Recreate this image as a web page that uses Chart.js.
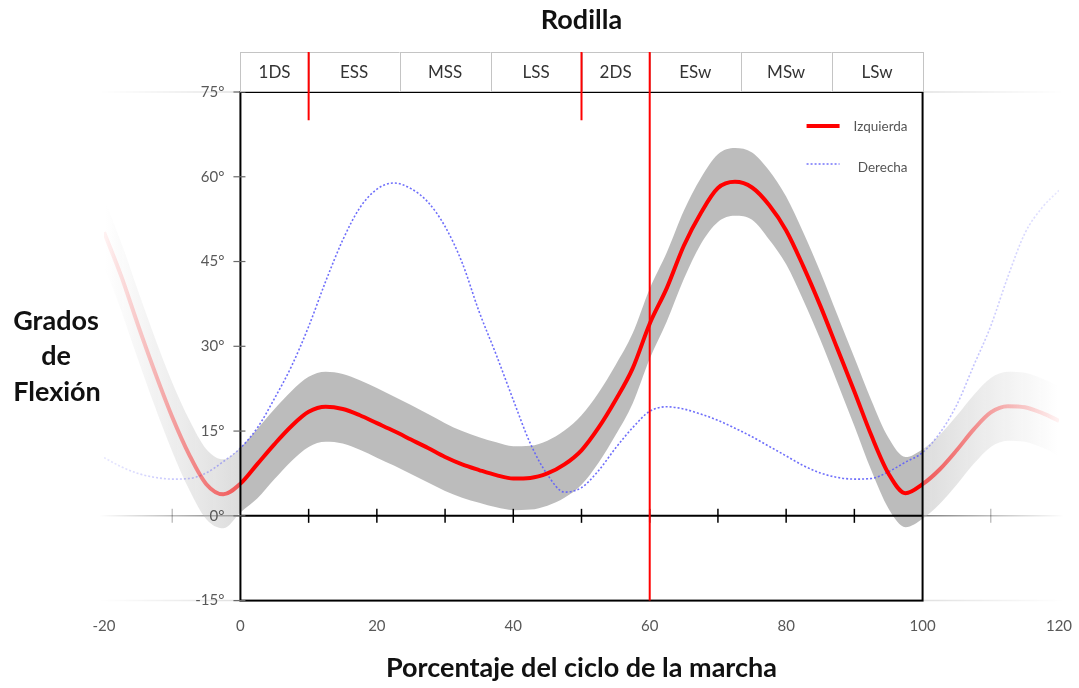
<!DOCTYPE html>
<html><head><meta charset="utf-8">
<script src="https://cdn.jsdelivr.net/npm/chart.js@4.4.1/dist/chart.umd.min.js"></script>
<style>html,body{margin:0;padding:0;background:#fff;}canvas{display:block;}</style>
</head><body>
<canvas id="c" width="1079" height="688"></canvas>
<script>
// ---- data ----
const pct = [-20,-17.5,-15,-12.5,-10,-7.5,-5,-2.5,0,2.5,5,7.5,10,12.5,15,17.5,20,22.5,25,27.5,30,32.5,35,37.5,40,42.5,45,47.5,50,52.5,55,57.5,60,62.5,65,67.5,70,72.5,75,77.5,80,82.5,85,87.5,90,92.5,95,97.5,100,102.5,105,107.5,110,112.5,115,117.5,120];
const izquierda = [50.2,42.5,33.7,25.3,17.5,10.8,5.6,3.8,
  5.7,9.2,12.7,15.9,18.4,19.3,18.9,17.8,16.4,15.0,13.5,12.0,10.4,9.1,8.1,7.2,6.6,6.7,7.5,9.1,
  11.6,15.6,20.5,26.1,34.0,40.3,47.8,53.6,58.0,59.1,58.1,55.0,50.5,44.2,37.2,29.6,22.0,14.2,7.5,4.0,
  5.6,8.2,11.6,15.3,18.3,19.4,19.2,18.2,16.8];
const izqSuperior = [56.0,48.4,39.8,31.4,23.6,17.0,11.8,10.0,
  12.1,15.4,18.9,22.1,24.6,25.5,25.1,24.0,22.6,21.1,19.6,18.0,16.4,15.0,13.9,13.0,12.3,12.4,13.3,15.1,
  17.8,21.8,26.7,32.3,40.2,46.6,54.0,59.8,64.0,65.1,64.3,61.1,56.5,50.2,43.2,35.6,28.0,20.4,13.8,10.4,
  11.8,14.3,17.7,21.4,24.4,25.5,25.3,24.3,22.9];
const izqInferior = [44.3,36.4,27.6,19.2,11.4,4.6,-0.6,-2.2,
  0.6,3.1,6.5,9.7,12.2,13.1,12.8,11.7,10.3,8.9,7.4,5.9,4.4,3.2,2.3,1.5,1.0,1.1,1.8,3.2,
  5.5,9.4,14.3,19.9,27.8,34.4,41.9,48.1,52.0,53.1,52.4,48.9,44.5,38.2,31.2,23.6,15.9,8.0,1.3,-2.0,
  -0.5,2.1,5.5,9.2,12.2,13.3,13.1,12.1,10.7];
const derecha = [10.3,8.7,7.5,6.8,6.5,6.6,7.6,9.6,
  12.0,15.6,20.8,26.5,33.5,41.5,48.8,54.5,57.8,58.9,57.9,55.5,51.2,44.8,36.1,28.5,20.5,12.8,7.3,4.2,
  5.0,8.0,12.0,15.6,18.5,19.3,18.9,18.0,16.9,15.5,14.0,12.3,10.6,8.9,7.6,6.8,6.5,6.6,7.8,9.5,
  11.2,14.6,19.6,26.6,33.6,42.3,50.0,54.5,57.6];
const yTickValues = [75,60,45,30,15,0,-15];
const zeroLineTicks = [10,20,30,40,50,60,70,80,90];
const fadedTicks = [-10,110];
const phaseBounds = [0,10,23.33,36.67,50,60,73.33,86.67,100];
const phaseLabels = ['1DS','ESS','MSS','LSS','2DS','ESw','MSw','LSw'];
const phaseMarkers = [10,50];
const toeOff = 60;
const markerEnd = 70;
const cycleStart = 0, cycleEnd = 100;
const yMin = -15, yMax = 75;
const yTitleLines = ['Grados','de','Flexión'];

const FONT = 'Lato, "Open Sans", "DejaVu Sans", sans-serif';
const pts = arr => pct.map((x,i)=>({x, y:arr[i]}));

function fadeGrad(chart, rgb, aIn, aEdge, aEnd, fallback){
  const {ctx, chartArea, scales} = chart;
  if (!chartArea || !scales.x) return fallback;
  const L = chartArea.left, R = chartArea.right, xs = scales.x;
  const f = v => Math.min(1, Math.max(0, (xs.getPixelForValue(v) - L) / (R - L)));
  const g = ctx.createLinearGradient(L, 0, R, 0);
  const c = a => `rgba(${rgb},${a})`;
  g.addColorStop(0, c(aEnd));
  g.addColorStop(Math.max(0, f(cycleStart) - 0.001), c(aEdge));
  g.addColorStop(f(cycleStart), c(aIn));
  g.addColorStop(f(cycleEnd), c(aIn));
  g.addColorStop(Math.min(1, f(cycleEnd) + 0.001), c(aEdge));
  g.addColorStop(1, c(aEnd));
  return g;
}

const decor = {
  id: 'decor',
  beforeDatasetsDraw(chart){
    const {ctx, chartArea:a, scales:{x,y}} = chart;
    const x0 = x.getPixelForValue(cycleStart), x1 = x.getPixelForValue(cycleEnd);
    ctx.save();
    function fadeLine(val, alpha, w){
      const py = y.getPixelForValue(val);
      let g = ctx.createLinearGradient(a.left - 5, 0, x0, 0);
      g.addColorStop(0, 'rgba(0,0,0,0)'); g.addColorStop(1, `rgba(0,0,0,${alpha})`);
      ctx.strokeStyle = g; ctx.lineWidth = w;
      ctx.beginPath(); ctx.moveTo(a.left - 5, py); ctx.lineTo(x0, py); ctx.stroke();
      g = ctx.createLinearGradient(x1, 0, a.right + 5, 0);
      g.addColorStop(0, `rgba(0,0,0,${alpha})`); g.addColorStop(1, 'rgba(0,0,0,0)');
      ctx.strokeStyle = g;
      ctx.beginPath(); ctx.moveTo(x1, py); ctx.lineTo(a.right + 5, py); ctx.stroke();
    }
    fadeLine(0, 0.5, 1.5);
    fadeLine(yMax, 0.12, 1.5);
    fadeLine(yMin, 0.12, 1.5);
    const pz = y.getPixelForValue(0);
    ctx.strokeStyle = 'rgba(0,0,0,0.3)'; ctx.lineWidth = 1.2;
    fadedTicks.forEach(v => {
      const px = x.getPixelForValue(v);
      ctx.beginPath(); ctx.moveTo(px, pz - 7); ctx.lineTo(px, pz + 7); ctx.stroke();
    });
    ctx.restore();
  },
  afterDatasetsDraw(chart){
    const {ctx, chartArea:a, scales:{x,y}} = chart;
    const x0 = x.getPixelForValue(cycleStart), x1 = x.getPixelForValue(cycleEnd);
    const yT = y.getPixelForValue(yMax), yB = y.getPixelForValue(yMin), pz = y.getPixelForValue(0);
    ctx.save();
    // plot box
    ctx.strokeStyle = '#000'; ctx.lineWidth = 2;
    ctx.strokeRect(x0, yT, x1 - x0, yB - yT);
    // zero line
    ctx.beginPath(); ctx.moveTo(x0, pz); ctx.lineTo(x1, pz); ctx.stroke();
    ctx.lineWidth = 1.5;
    zeroLineTicks.forEach(v => {
      const px = x.getPixelForValue(v);
      ctx.beginPath(); ctx.moveTo(px, pz - 7); ctx.lineTo(px, pz + 7); ctx.stroke();
    });
    // y ticks + labels
    ctx.strokeStyle = '#6a6a6a'; ctx.lineWidth = 1.2;
    ctx.fillStyle = '#595959'; ctx.font = `15px ${FONT}`;
    ctx.textAlign = 'right'; ctx.textBaseline = 'middle';
    yTickValues.forEach(v => {
      const py = y.getPixelForValue(v);
      ctx.beginPath(); ctx.moveTo(x0 - 7, py); ctx.lineTo(x0 + 5, py); ctx.stroke();
      ctx.fillText(v + '°', x0 - 16, py);
    });
    // phase header
    const hTop = yT - 40;
    ctx.lineWidth = 1; ctx.strokeStyle = '#c4c4c4';
    ctx.font = `17px ${FONT}`; ctx.textAlign = 'center'; ctx.textBaseline = 'middle';
    for (let i = 0; i < phaseLabels.length; i++){
      const l = x.getPixelForValue(phaseBounds[i]), r = x.getPixelForValue(phaseBounds[i+1]);
      ctx.fillStyle = '#fff'; ctx.fillRect(l, hTop, r - l, yT - hTop);
      ctx.strokeRect(Math.round(l) + 0.5, hTop + 0.5, Math.round(r - l), yT - hTop - 1);
      ctx.fillStyle = '#333';
      ctx.fillText(phaseLabels[i], (l + r) / 2, hTop + 21);
    }
    // phase markers
    ctx.strokeStyle = '#ff0000'; ctx.lineWidth = 2;
    phaseMarkers.forEach(v => {
      const px = x.getPixelForValue(v);
      ctx.beginPath(); ctx.moveTo(px, hTop); ctx.lineTo(px, y.getPixelForValue(markerEnd)); ctx.stroke();
    });
    const pt = x.getPixelForValue(toeOff);
    ctx.beginPath(); ctx.moveTo(pt, hTop); ctx.lineTo(pt, yB); ctx.stroke();
    // legend
    const ds = chart.data.datasets;
    const lx1 = x1 - 116, lx2 = x1 - 83, tx = x1 - 15;
    ctx.font = `13.5px ${FONT}`; ctx.fillStyle = '#555'; ctx.textAlign = 'right'; ctx.textBaseline = 'middle';
    ctx.strokeStyle = '#ff0000'; ctx.lineWidth = 4; ctx.setLineDash([]);
    ctx.beginPath(); ctx.moveTo(lx1, yT + 34); ctx.lineTo(lx2, yT + 34); ctx.stroke();
    ctx.fillText(ds[0].label, tx, yT + 35);
    ctx.strokeStyle = 'rgba(100,100,250,0.9)'; ctx.lineWidth = 1.5; ctx.setLineDash([2,2]);
    ctx.beginPath(); ctx.moveTo(lx1, yT + 72); ctx.lineTo(lx2, yT + 72); ctx.stroke();
    ctx.setLineDash([]);
    ctx.fillText(ds[1].label, tx, yT + 76);
    // y title
    ctx.font = `bold 27px ${FONT}`; ctx.fillStyle = '#111'; ctx.textAlign = 'center';
    ctx.textBaseline = 'alphabetic';
    ctx.fillText(yTitleLines[0], 56, yT + 238);
    ctx.fillText(yTitleLines[1], 56, yT + 273);
    ctx.fillText(yTitleLines[2], 57, yT + 309);
    ctx.restore();
  }
};

new Chart(document.getElementById('c'), {
  type: 'line',
  data: {
    datasets: [
      { label: 'Izquierda', data: pts(izquierda), order: 0,
        borderColor: c => fadeGrad(c.chart, '255,0,0', 1, 0.6, 0.05, '#ff0000'),
        borderWidth: 4, pointRadius: 0, fill: false, cubicInterpolationMode: 'monotone' },
      { label: 'Derecha', data: pts(derecha), order: 1,
        borderColor: c => fadeGrad(c.chart, '95,95,250', 0.9, 0.5, 0.15, 'rgba(95,95,250,0.9)'),
        borderWidth: 1.6, borderDash: [2,2], pointRadius: 0, fill: false, cubicInterpolationMode: 'monotone' },
      { label: 'banda sup', data: pts(izqSuperior), order: 2,
        borderColor: 'rgba(0,0,0,0)', borderWidth: 0, pointRadius: 0, fill: '+1',
        backgroundColor: c => fadeGrad(c.chart, '188,188,188', 1, 0.5, 0, '#bcbcbc'),
        cubicInterpolationMode: 'monotone' },
      { label: 'banda inf', data: pts(izqInferior), order: 3,
        borderColor: 'rgba(0,0,0,0)', borderWidth: 0, pointRadius: 0, fill: false,
        cubicInterpolationMode: 'monotone' }
    ]
  },
  options: {
    responsive: false, animation: false, devicePixelRatio: 1,
    layout: { padding: { left: 104, right: 20, top: 0, bottom: 0 } },
    plugins: {
      legend: { display: false }, tooltip: { enabled: false },
      title: { display: true, text: 'Rodilla', color: '#111',
        font: { family: FONT, size: 27, weight: 'bold' }, padding: { top: 4, bottom: 55.6 } }
    },
    scales: {
      x: { type: 'linear', min: -20, max: 120,
        grid: { display: false, drawTicks: true, tickLength: 14 }, border: { display: false },
        ticks: { stepSize: 20, color: '#595959', font: { family: FONT, size: 15 }, padding: 3 },
        title: { display: true, text: 'Porcentaje del ciclo de la marcha', color: '#111',
          font: { family: FONT, size: 27, weight: 'bold' }, padding: { top: 13, bottom: 4 } } },
      y: { type: 'linear', min: yMin, max: yMax, display: false }
    }
  },
  plugins: [decor]
});
</script>
</body></html>
